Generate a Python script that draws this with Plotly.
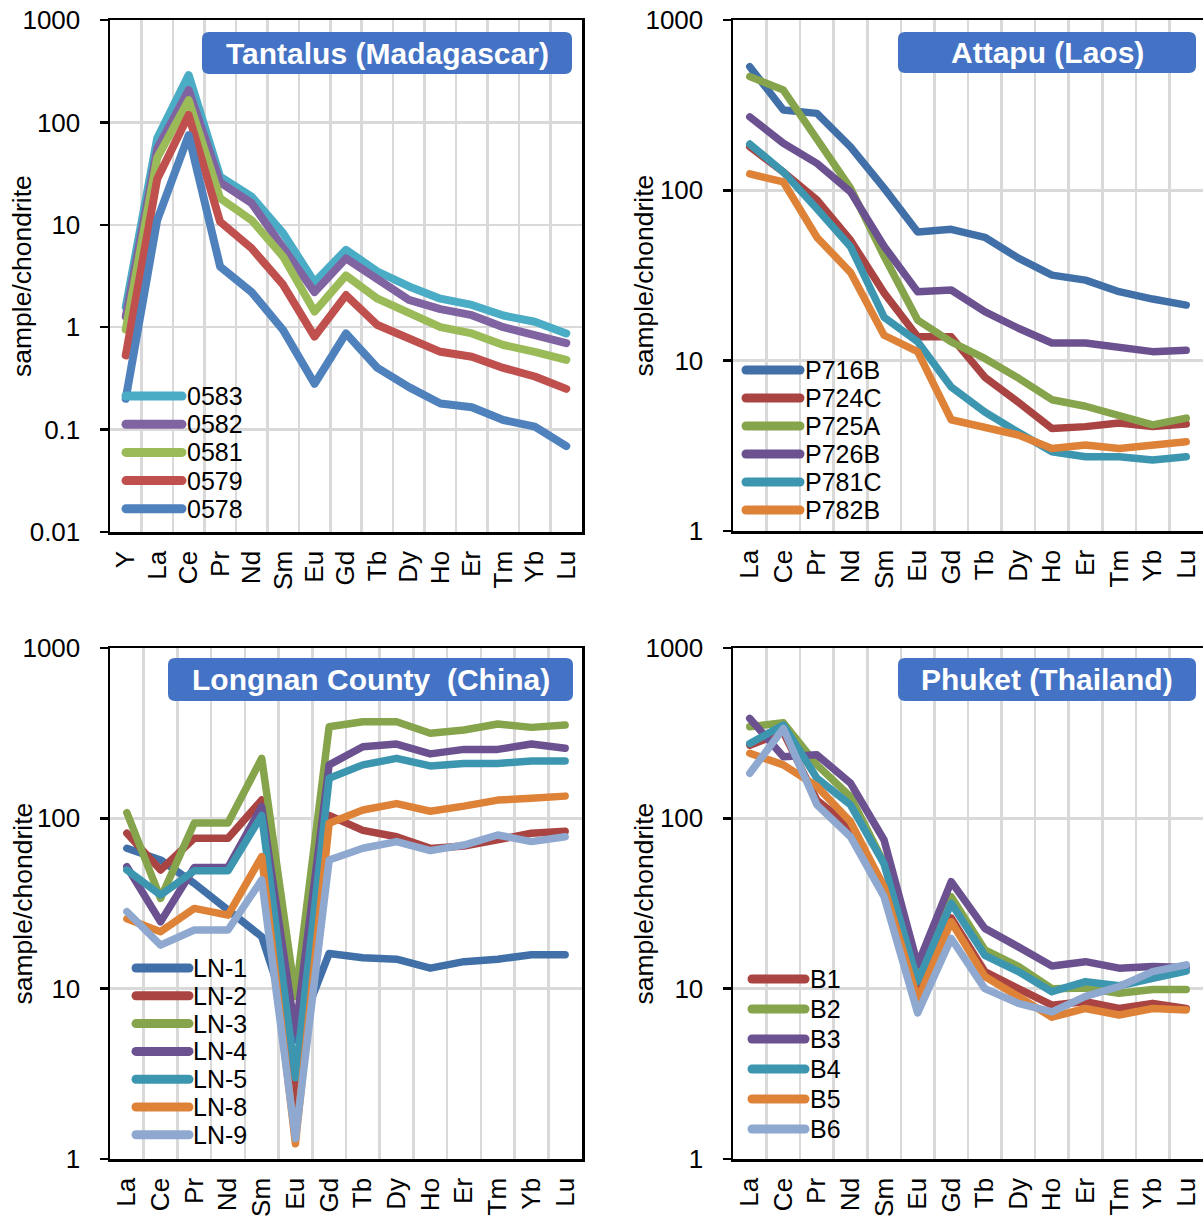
import plotly.graph_objects as go

W, H = 1203, 1216
FONT = "Liberation Sans, Arial, sans-serif"

# ---------------- data ----------------
elements_y = ["Y", "La", "Ce", "Pr", "Nd", "Sm", "Eu", "Gd", "Tb", "Dy", "Ho", "Er", "Tm", "Yb", "Lu"]
elements_ree = ["La", "Ce", "Pr", "Nd", "Sm", "Eu", "Gd", "Tb", "Dy", "Ho", "Er", "Tm", "Yb", "Lu"]

# Tantalus (Madagascar)
tantalus_names = ["0583", "0582", "0581", "0579", "0578"]
t_0583 = [1.58, 70, 290, 29.5, 18.8, 8.3, 2.75, 5.7, 3.5, 2.5, 1.9, 1.65, 1.3, 1.13, 0.87]
t_0582 = [1.27, 55, 207, 26, 16.3, 6.1, 2.2, 4.7, 3.0, 1.85, 1.5, 1.31, 1.0, 0.84, 0.70]
t_0581 = [0.95, 45, 165, 18.2, 11.1, 4.9, 1.42, 3.2, 1.9, 1.4, 1.0, 0.87, 0.67, 0.575, 0.48]
t_0579 = [0.53, 28, 118, 10.7, 5.9, 2.6, 0.81, 2.06, 1.05, 0.78, 0.575, 0.515, 0.40, 0.33, 0.25]
t_0578 = [0.2, 11.1, 75, 3.9, 2.2, 0.94, 0.28, 0.87, 0.40, 0.26, 0.18, 0.165, 0.124, 0.107, 0.069]

# Attapu (Laos)
attapu_names = ["P716B", "P724C", "P725A", "P726B", "P781C", "P782B"]
a_p716b = [532, 296, 283, 180, 103, 57, 59, 53, 40, 31.8, 29.7, 25.4, 23.0, 21.2]
a_p724c = [180, 128, 88, 51, 25, 13.8, 13.8, 8.0, 5.7, 4.0, 4.1, 4.3, 4.1, 4.25]
a_p725a = [465, 388, 200, 103, 41, 17.3, 12.9, 10.3, 7.9, 5.9, 5.4, 4.7, 4.2, 4.6]
a_p726b = [270, 189, 144, 98, 47, 25.4, 26, 19.4, 15.5, 12.7, 12.7, 12.1, 11.3, 11.5]
a_p781c = [187, 128, 78, 46.7, 18, 12.9, 7.0, 5.0, 3.8, 2.92, 2.73, 2.73, 2.61, 2.73]
a_p782b = [125, 112, 53, 33, 14.1, 11.3, 4.5, 4.1, 3.66, 3.05, 3.2, 3.05, 3.2, 3.34]

# Longnan County (China)
longnan_names = ["LN-1", "LN-2", "LN-3", "LN-4", "LN-5", "LN-8", "LN-9"]
l_ln1 = [66.7, 57, 41.5, 29, 20.2, 5.0, 16.1, 15.2, 14.9, 13.2, 14.4, 14.9, 15.8, 15.8]
l_ln2 = [81.7, 49.7, 76.4, 76.4, 128, 2.0, 104, 85, 78, 66.6, 68.7, 74.6, 81.7, 84]
l_ln3 = [108, 33.9, 94, 94, 225, 9.0, 345, 369, 369, 316, 330, 358, 342, 353]
l_ln4 = [52, 24.7, 51.5, 51.5, 117, 5.5, 206, 263, 273, 239, 254, 254, 273, 258]
l_ln5 = [49.7, 35.5, 49.2, 49.2, 104, 3.0, 172, 206, 225, 203, 210, 210, 217, 217]
l_ln8 = [25.7, 21.6, 29.6, 27, 59.6, 1.23, 93.6, 112, 122, 110, 118, 128, 131, 135]
l_ln9 = [28.3, 18, 22.1, 22.1, 43.5, 1.32, 56.9, 66.7, 73, 64.6, 69.7, 79.8, 73, 78]

# Phuket (Thailand)
phuket_names = ["B1", "B2", "B3", "B4", "B5", "B6"]
p_b1 = [269, 320, 128, 89, 39.6, 10.3, 26, 12.6, 10, 8.0, 8.4, 7.65, 8.2, 7.65]
p_b2 = [345, 364, 206, 134, 54.5, 11.7, 34.7, 16.9, 13.5, 10, 10.1, 9.4, 9.9, 9.9]
p_b3 = [386, 230, 236, 161, 74.6, 13.8, 42.5, 22.6, 17.6, 13.6, 14.4, 13.2, 13.5, 13.3]
p_b4 = [275, 353, 172, 120, 54, 11, 31.7, 15.7, 12.6, 9.6, 11, 10.4, 11.5, 12.7]
p_b5 = [241, 206, 154, 95.5, 39.6, 8.6, 24.7, 11.8, 9.0, 6.8, 7.65, 7.0, 7.65, 7.5]
p_b6 = [184, 337, 120, 78, 34.7, 7.2, 19.7, 10, 8.2, 7.3, 9.0, 10.3, 12.6, 13.8]

panel_titles = ["Tantalus (Madagascar)", "Attapu (Laos)", "Longnan County\u00a0 (China)", "Phuket (Thailand)"]
y_tick_vals = [0.01, 0.1, 1, 10, 100, 1000]
y_tick_text = ["0.01", "0.1", "1", "10", "100", "1000"]

# ---------------- styles ----------------
c1 = {"cyan": "#4BACC6", "purple": "#8064A2", "green": "#9BBB59", "red": "#C0504D", "blue": "#4F81BD"}
c2 = {"blue": "#4170A8", "red": "#A94442", "green": "#86A44B", "purple": "#6C5190",
      "teal": "#3D96AF", "orange": "#DE8238", "light": "#8EA8CF"}

panels = [
    dict(cats=elements_y, names=tantalus_names,
         values=[t_0583, t_0582, t_0581, t_0579, t_0578],
         colors=[c1["cyan"], c1["purple"], c1["green"], c1["red"], c1["blue"]],
         lw=8, yrange=[-2, 3], left=True,
         dom_px=(110, 582, 20, 532), box_px=(202, 572, 32, 74),
         ytitle_px=22, legend=(126, 182, 185, 396, 28.2)),
    dict(cats=elements_ree, names=attapu_names,
         values=[a_p716b, a_p724c, a_p725a, a_p726b, a_p781c, a_p782b],
         colors=[c2["blue"], c2["red"], c2["green"], c2["purple"], c2["teal"], c2["orange"]],
         lw=7.5, yrange=[0, 3], left=False,
         dom_px=(733, 1203, 20, 531), box_px=(898, 1196, 32, 73),
         ytitle_px=643, legend=(746, 800, 803, 370, 28)),
    dict(cats=elements_ree, names=longnan_names,
         values=[l_ln1, l_ln2, l_ln3, l_ln4, l_ln5, l_ln8, l_ln9],
         colors=[c2["blue"], c2["red"], c2["green"], c2["purple"], c2["teal"], c2["orange"], c2["light"]],
         lw=7.5, yrange=[0, 3], left=True,
         dom_px=(110, 582, 648, 1159), box_px=(168, 573, 658, 701),
         ytitle_px=22, legend=(136, 189, 191, 968, 27.8)),
    dict(cats=elements_ree, names=phuket_names,
         values=[p_b1, p_b2, p_b3, p_b4, p_b5, p_b6],
         colors=[c2["red"], c2["green"], c2["purple"], c2["teal"], c2["orange"], c2["light"]],
         lw=7.5, yrange=[0, 3], left=False,
         dom_px=(733, 1203, 648, 1159), box_px=(898, 1196, 658, 701),
         ytitle_px=643, legend=(752, 805, 808, 979, 30)),
]


def fx(px):
    return px / W


def fy(py):
    return 1 - py / H


def rounded_box(x0, x1, y0, y1, r=7):
    pts = [
        ("M", [(x0 + r, y0)]),
        ("L", [(x1 - r, y0)]),
        ("Q", [(x1, y0), (x1, y0 + r)]),
        ("L", [(x1, y1 - r)]),
        ("Q", [(x1, y1), (x1 - r, y1)]),
        ("L", [(x0 + r, y1)]),
        ("Q", [(x0, y1), (x0, y1 - r)]),
        ("L", [(x0, y0 + r)]),
        ("Q", [(x0, y0), (x0 + r, y0)]),
    ]
    s = ""
    for cmd, ps in pts:
        s += cmd + " " + " ".join(f"{fx(a):.6f},{fy(b):.6f}" for a, b in ps) + " "
    return s + "Z"


fig = go.Figure()
shapes = []
annotations = []
layout_axes = {}

for i, p in enumerate(panels, start=1):
    xa = "x" if i == 1 else f"x{i}"
    ya = "y" if i == 1 else f"y{i}"
    for name, vals, col in zip(p["names"], p["values"], p["colors"]):
        fig.add_trace(go.Scatter(
            x=p["cats"], y=vals, name=name, mode="lines",
            line=dict(color=col, width=p["lw"]),
            xaxis=xa, yaxis=ya, showlegend=False, hoverinfo="skip"))

    x0, x1, y0, y1 = p["dom_px"]
    xkey = "xaxis" if i == 1 else f"xaxis{i}"
    ykey = "yaxis" if i == 1 else f"yaxis{i}"
    layout_axes[xkey] = dict(
        domain=[fx(x0), fx(x1)], anchor=ya, type="category",
        categoryorder="array", categoryarray=p["cats"],
        range=[-0.5, len(p["cats"]) - 0.5], tickson="boundaries",
        showgrid=True, gridcolor="#D9D9D9", gridwidth=2.5,
        showline=True, linecolor="black", linewidth=2.5, mirror=True,
        ticks="", tickangle=-90, ticklabelstandoff=6, automargin=False,
        tickfont=dict(family=FONT, size=26, color="black"), fixedrange=True)
    layout_axes[ykey] = dict(
        domain=[fy(y1), fy(y0)], anchor=xa, type="log", range=p["yrange"],
        tickmode="array", tickvals=y_tick_vals, ticktext=y_tick_text,
        showgrid=True, gridcolor="#D9D9D9", gridwidth=2.5,
        showline=True, linecolor="black", linewidth=2.5, mirror=p["left"],
        ticks="outside", ticklen=8, tickwidth=2.5, tickcolor="black",
        ticklabelstandoff=14, automargin=False,
        tickfont=dict(family=FONT, size=26, color="black"), fixedrange=True)

    # y-axis title
    annotations.append(dict(
        text="sample/chondrite", textangle=-90, xref="paper", yref="paper",
        x=fx(p["ytitle_px"]), y=fy((y0 + y1) / 2), xanchor="center", yanchor="middle",
        showarrow=False, font=dict(family=FONT, size=26.5, color="black")))

    # title box
    bx0, bx1, by0, by1 = p["box_px"]
    shapes.append(dict(type="path", xref="paper", yref="paper",
                       path=rounded_box(bx0, bx1, by0, by1),
                       fillcolor="#4472C4", line=dict(width=0), layer="above"))
    annotations.append(dict(
        text="<b>" + panel_titles[i - 1] + "</b>", xref="paper", yref="paper",
        x=fx((bx0 + bx1) / 2), y=fy((by0 + by1) / 2), xanchor="center", yanchor="middle",
        showarrow=False, font=dict(family=FONT, size=30, color="white")))

    # legend (drawn like the original: long line swatches)
    lx0, lx1, tx, ly, dy = p["legend"]
    for k, (name, col) in enumerate(zip(p["names"], p["values"] and p["colors"])):
        yy = ly + k * dy
        shapes.append(dict(type="line", xref="paper", yref="paper",
                           x0=fx(lx0), x1=fx(lx1), y0=fy(yy), y1=fy(yy),
                           line=dict(color=col, width=9), layer="above"))
        annotations.append(dict(
            text=name, xref="paper", yref="paper", x=fx(tx), y=fy(yy),
            xanchor="left", yanchor="middle", showarrow=False,
            font=dict(family=FONT, size=25, color="black")))

fig.update_layout(
    width=W, height=H, autosize=False,
    margin=dict(l=0, r=0, t=0, b=0, pad=0, autoexpand=False),
    paper_bgcolor="white", plot_bgcolor="white",
    font=dict(family=FONT, size=26, color="black"),
    showlegend=False, shapes=shapes, annotations=annotations,
    **layout_axes)

post = """
var gd = document.getElementById('{plot_id}');
function rnd(){
  gd.querySelectorAll('.scatterlayer .js-line, .shapelayer path').forEach(function(p){
    p.style.strokeLinejoin='round'; p.style.strokeLinecap='round';
  });
}
rnd();
gd.on('plotly_afterplot', rnd);
"""

fig.write_html("out.html", config={"displayModeBar": False, "staticPlot": True}, post_script=post)
